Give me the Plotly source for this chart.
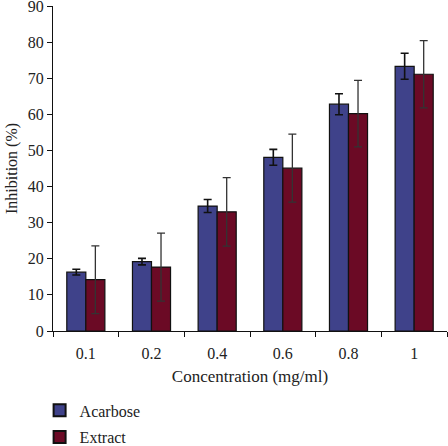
import plotly.graph_objects as go

categories = ["0.1", "0.2", "0.4", "0.6", "0.8", "1"]
acarbose = [16.3, 19.2, 34.6, 48.1, 62.8, 73.3]
acarbose_err = [0.8, 0.9, 1.8, 2.2, 2.9, 3.6]
extract = [14.2, 17.7, 33.0, 45.1, 60.2, 71.1]
extract_err = [9.4, 9.4, 9.5, 9.4, 9.2, 9.3]
y_ticks = [0, 10, 20, 30, 40, 50, 60, 70, 80, 90]

font_family = "Liberation Serif, DejaVu Serif, serif"

fig = go.Figure()
fig.add_trace(go.Bar(
    x=categories, y=acarbose, name="Acarbose", legendgroup="a",
    marker=dict(color="#3F428A", line=dict(color="#111111", width=1.2)),
    error_y=dict(type="data", array=acarbose_err, color="#111111", thickness=1.6, width=4),
))
fig.add_trace(go.Bar(
    x=categories, y=extract, name="Extract", legendgroup="b",
    marker=dict(color="#6B0A25", line=dict(color="#111111", width=1.2)),
    error_y=dict(type="data", array=extract_err, color="#333333", thickness=1.3, width=4),
))

fig.update_layout(
    width=448, height=446,
    margin=dict(l=53, r=1, t=6, b=115, autoexpand=False),
    paper_bgcolor="white", plot_bgcolor="white",
    barmode="group", bargap=0.42, bargroupgap=0,
    font=dict(family=font_family, size=16, color="#222222"),
    showlegend=True,
    legend=dict(
        orientation="v", x=-0.034, xanchor="left", y=-0.192, yanchor="top",
        font=dict(family=font_family, size=16, color="#222222"),
        tracegroupgap=3, itemsizing="constant",
    ),
)
fig.update_xaxes(
    automargin=False,
    showline=True, linecolor="#111111", linewidth=1.2,
    ticks="outside", ticklen=5, tickcolor="#111111", tickson="boundaries",
    ticklabelstandoff=8,
    title=dict(text="Concentration (mg/ml)", font=dict(size=17), standoff=8),
    tickfont=dict(size=16),
)
fig.update_yaxes(
    automargin=False, ticklabeloverflow="allow",
    range=[0, 90], tickvals=y_ticks,
    showline=True, linecolor="#111111", linewidth=1.2,
    ticks="outside", ticklen=5, tickcolor="#111111",
    showgrid=False, zeroline=False,
    title=dict(text="Inhibition (%)", font=dict(size=16), standoff=6),
    tickfont=dict(size=16),
)

fig.write_html("out.html", config={"displayModeBar": False},
               post_script="document.body.style.margin='0';")
